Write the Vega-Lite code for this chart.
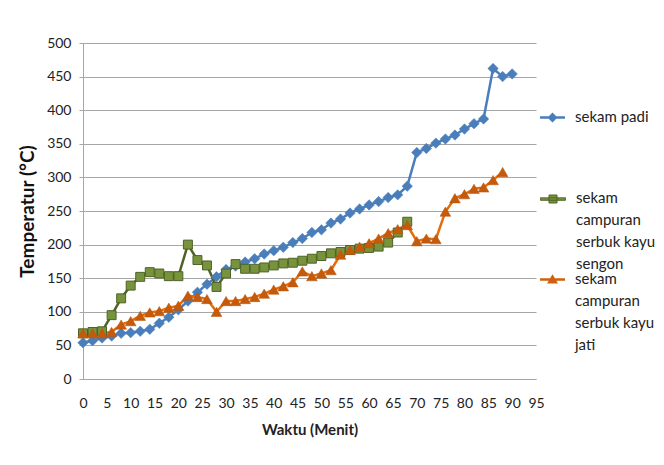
{
  "$schema": "https://vega.github.io/schema/vega-lite/v6.json",
  "autosize": "none",
  "width": 453,
  "height": 336,
  "padding": {"left": 83, "top": 43, "right": 128, "bottom": 86},
  "background": "white",
  "config": {
    "font": "Lato",
    "view": {"stroke": null},
    "legend": {
      "orient": "none", "legendX": 457, "padding": 0, "title": null, "direction": "vertical",
      "symbolSize": 625, "labelFontSize": 15, "labelColor": "#222", "labelOffset": 10, "labelLimit": 200, "labelBaseline": "top"
    }
  },
  "data": {"values": [
    {"s":"sekam padi","t":0,"v":54},{"s":"sekam padi","t":2,"v":57},{"s":"sekam padi","t":4,"v":61},{"s":"sekam padi","t":6,"v":64},{"s":"sekam padi","t":8,"v":68},{"s":"sekam padi","t":10,"v":69},{"s":"sekam padi","t":12,"v":71},{"s":"sekam padi","t":14,"v":74},{"s":"sekam padi","t":16,"v":83},{"s":"sekam padi","t":18,"v":92},{"s":"sekam padi","t":20,"v":103},{"s":"sekam padi","t":22,"v":116},{"s":"sekam padi","t":24,"v":129},{"s":"sekam padi","t":26,"v":141},{"s":"sekam padi","t":28,"v":152},{"s":"sekam padi","t":30,"v":163},{"s":"sekam padi","t":32,"v":168},{"s":"sekam padi","t":34,"v":174},{"s":"sekam padi","t":36,"v":179},{"s":"sekam padi","t":38,"v":186},{"s":"sekam padi","t":40,"v":191},{"s":"sekam padi","t":42,"v":196},{"s":"sekam padi","t":44,"v":203},{"s":"sekam padi","t":46,"v":209},{"s":"sekam padi","t":48,"v":218},{"s":"sekam padi","t":50,"v":222},{"s":"sekam padi","t":52,"v":232},{"s":"sekam padi","t":54,"v":238},{"s":"sekam padi","t":56,"v":247},{"s":"sekam padi","t":58,"v":253},{"s":"sekam padi","t":60,"v":259},{"s":"sekam padi","t":62,"v":264},{"s":"sekam padi","t":64,"v":270},{"s":"sekam padi","t":66,"v":274},{"s":"sekam padi","t":68,"v":287},{"s":"sekam padi","t":70,"v":337},{"s":"sekam padi","t":72,"v":343},{"s":"sekam padi","t":74,"v":351},{"s":"sekam padi","t":76,"v":357},{"s":"sekam padi","t":78,"v":363},{"s":"sekam padi","t":80,"v":372},{"s":"sekam padi","t":82,"v":380},{"s":"sekam padi","t":84,"v":387},{"s":"sekam padi","t":86,"v":462},{"s":"sekam padi","t":88,"v":450},{"s":"sekam padi","t":90,"v":454},
    {"s":"sekam campuran serbuk kayu sengon","t":0,"v":68},{"s":"sekam campuran serbuk kayu sengon","t":2,"v":70},{"s":"sekam campuran serbuk kayu sengon","t":4,"v":71},{"s":"sekam campuran serbuk kayu sengon","t":6,"v":95},{"s":"sekam campuran serbuk kayu sengon","t":8,"v":120},{"s":"sekam campuran serbuk kayu sengon","t":10,"v":139},{"s":"sekam campuran serbuk kayu sengon","t":12,"v":152},{"s":"sekam campuran serbuk kayu sengon","t":14,"v":159},{"s":"sekam campuran serbuk kayu sengon","t":16,"v":157},{"s":"sekam campuran serbuk kayu sengon","t":18,"v":153},{"s":"sekam campuran serbuk kayu sengon","t":20,"v":153},{"s":"sekam campuran serbuk kayu sengon","t":22,"v":200},{"s":"sekam campuran serbuk kayu sengon","t":24,"v":177},{"s":"sekam campuran serbuk kayu sengon","t":26,"v":169},{"s":"sekam campuran serbuk kayu sengon","t":28,"v":137},{"s":"sekam campuran serbuk kayu sengon","t":30,"v":157},{"s":"sekam campuran serbuk kayu sengon","t":32,"v":171},{"s":"sekam campuran serbuk kayu sengon","t":34,"v":164},{"s":"sekam campuran serbuk kayu sengon","t":36,"v":164},{"s":"sekam campuran serbuk kayu sengon","t":38,"v":166},{"s":"sekam campuran serbuk kayu sengon","t":40,"v":169},{"s":"sekam campuran serbuk kayu sengon","t":42,"v":172},{"s":"sekam campuran serbuk kayu sengon","t":44,"v":173},{"s":"sekam campuran serbuk kayu sengon","t":46,"v":176},{"s":"sekam campuran serbuk kayu sengon","t":48,"v":179},{"s":"sekam campuran serbuk kayu sengon","t":50,"v":183},{"s":"sekam campuran serbuk kayu sengon","t":52,"v":187},{"s":"sekam campuran serbuk kayu sengon","t":54,"v":189},{"s":"sekam campuran serbuk kayu sengon","t":56,"v":192},{"s":"sekam campuran serbuk kayu sengon","t":58,"v":194},{"s":"sekam campuran serbuk kayu sengon","t":60,"v":195},{"s":"sekam campuran serbuk kayu sengon","t":62,"v":197},{"s":"sekam campuran serbuk kayu sengon","t":64,"v":203},{"s":"sekam campuran serbuk kayu sengon","t":66,"v":218},{"s":"sekam campuran serbuk kayu sengon","t":68,"v":234},
    {"s":"sekam campuran serbuk kayu jati","t":0,"v":68},{"s":"sekam campuran serbuk kayu jati","t":2,"v":68},{"s":"sekam campuran serbuk kayu jati","t":4,"v":68},{"s":"sekam campuran serbuk kayu jati","t":6,"v":70},{"s":"sekam campuran serbuk kayu jati","t":8,"v":81},{"s":"sekam campuran serbuk kayu jati","t":10,"v":86},{"s":"sekam campuran serbuk kayu jati","t":12,"v":94},{"s":"sekam campuran serbuk kayu jati","t":14,"v":99},{"s":"sekam campuran serbuk kayu jati","t":16,"v":101},{"s":"sekam campuran serbuk kayu jati","t":18,"v":106},{"s":"sekam campuran serbuk kayu jati","t":20,"v":109},{"s":"sekam campuran serbuk kayu jati","t":22,"v":124},{"s":"sekam campuran serbuk kayu jati","t":24,"v":122},{"s":"sekam campuran serbuk kayu jati","t":26,"v":119},{"s":"sekam campuran serbuk kayu jati","t":28,"v":100},{"s":"sekam campuran serbuk kayu jati","t":30,"v":116},{"s":"sekam campuran serbuk kayu jati","t":32,"v":116},{"s":"sekam campuran serbuk kayu jati","t":34,"v":119},{"s":"sekam campuran serbuk kayu jati","t":36,"v":122},{"s":"sekam campuran serbuk kayu jati","t":38,"v":127},{"s":"sekam campuran serbuk kayu jati","t":40,"v":133},{"s":"sekam campuran serbuk kayu jati","t":42,"v":138},{"s":"sekam campuran serbuk kayu jati","t":44,"v":144},{"s":"sekam campuran serbuk kayu jati","t":46,"v":160},{"s":"sekam campuran serbuk kayu jati","t":48,"v":153},{"s":"sekam campuran serbuk kayu jati","t":50,"v":157},{"s":"sekam campuran serbuk kayu jati","t":52,"v":162},{"s":"sekam campuran serbuk kayu jati","t":54,"v":185},{"s":"sekam campuran serbuk kayu jati","t":56,"v":192},{"s":"sekam campuran serbuk kayu jati","t":58,"v":197},{"s":"sekam campuran serbuk kayu jati","t":60,"v":202},{"s":"sekam campuran serbuk kayu jati","t":62,"v":209},{"s":"sekam campuran serbuk kayu jati","t":64,"v":217},{"s":"sekam campuran serbuk kayu jati","t":66,"v":223},{"s":"sekam campuran serbuk kayu jati","t":68,"v":229},{"s":"sekam campuran serbuk kayu jati","t":70,"v":205},{"s":"sekam campuran serbuk kayu jati","t":72,"v":209},{"s":"sekam campuran serbuk kayu jati","t":74,"v":208},{"s":"sekam campuran serbuk kayu jati","t":76,"v":249},{"s":"sekam campuran serbuk kayu jati","t":78,"v":269},{"s":"sekam campuran serbuk kayu jati","t":80,"v":275},{"s":"sekam campuran serbuk kayu jati","t":82,"v":283},{"s":"sekam campuran serbuk kayu jati","t":84,"v":285},{"s":"sekam campuran serbuk kayu jati","t":86,"v":296},{"s":"sekam campuran serbuk kayu jati","t":88,"v":308}
  ]},
  "encoding": {
    "x": {"field": "t", "type": "quantitative",
      "scale": {"domain": [0, 95], "nice": false},
      "axis": {"values": [0,5,10,15,20,25,30,35,40,45,50,55,60,65,70,75,80,85,90,95], "grid": false, "ticks": false, "domainColor": "#A6A6A6", "labelFontSize": 14, "labelColor": "#222", "labelPadding": 17, "labelFlush": false, "title": "Waktu (Menit)", "titleFontSize": 15, "titleFontWeight": "bold", "titleColor": "#222", "titlePadding": 12}},
    "y": {"field": "v", "type": "quantitative",
      "scale": {"domain": [0, 500], "nice": false},
      "axis": {"values": [0,50,100,150,200,250,300,350,400,450,500], "gridColor": "#A6A6A6", "domainColor": "#A6A6A6", "tickColor": "#A6A6A6", "tickSize": 4, "labelFontSize": 14, "labelColor": "#222", "labelPadding": 8, "title": "Temperatur (°C)", "titleFontSize": 19, "titleFontWeight": "bold", "titleColor": "#111", "titlePadding": 9}}
  },
  "layer": [
    {"mark": {"type": "line", "strokeWidth": 2.5},
     "encoding": {
       "color": {"field": "s", "type": "nominal",
         "scale": {"domain": ["sekam padi", "sekam campuran serbuk kayu sengon", "sekam campuran serbuk kayu jati"], "range": ["#4A7EBB", "#4F6228", "#E46C0A"]},
         "legend": {
           "values": ["sekam padi"], "legendY": 62,
           "encode": {
             "symbols": {"update": {
               "shape": {"value": "M-1,-0.1H1V0.1H-1Z M0,-0.4L0.4,0L0,0.4L-0.4,0Z"},
               "size": {"value": 625}, "fill": {"value": "#4A7EBB"}, "stroke": {"value": "transparent"}, "strokeWidth": {"value": 0}, "opacity": {"value": 1}
             }},
             "labels": {"update": {"dy": {"value": -8}, "lineHeight": {"value": 23}}}
           }
         }},
       "strokeDash": {"field": "s", "type": "nominal",
         "scale": {"domain": ["sekam campuran serbuk kayu sengon", "sekam campuran serbuk kayu jati", "sekam padi"], "range": [[1, 0], [1, 0], [1, 0]]},
         "legend": {
           "values": ["sekam campuran serbuk kayu sengon"], "legendY": 143,
           "labelExpr": "split(replace(replace(datum.label, 'sekam campuran ', 'sekam|campuran|'), 'kayu ', 'kayu|'), '|')",
           "encode": {
             "symbols": {"update": {
               "shape": {"value": "M-1,-0.1H1V0.1H-1Z M-0.32,-0.32H0.32V0.32H-0.32Z"},
               "size": {"value": 625}, "fill": {"value": "#77933C"}, "stroke": {"value": "#4F6228"}, "strokeWidth": {"value": 1}, "strokeDash": {"value": [1, 0]}, "opacity": {"value": 1}
             }},
             "labels": {"update": {"dy": {"value": -8}, "lineHeight": {"value": 22}}}
           }
         }},
       "opacity": {"field": "s", "type": "ordinal",
         "scale": {"domain": ["sekam campuran serbuk kayu jati", "sekam padi", "sekam campuran serbuk kayu sengon"], "range": [1, 1, 1]},
         "legend": {
           "values": ["sekam campuran serbuk kayu jati"], "legendY": 224,
           "labelExpr": "split(replace(replace(datum.label, 'sekam campuran ', 'sekam|campuran|'), 'kayu ', 'kayu|'), '|')",
           "encode": {
             "symbols": {"update": {
               "shape": {"value": "M-1,-0.1H1V0.1H-1Z M0,-0.42L0.44,0.32H-0.44Z"},
               "size": {"value": 625}, "fill": {"value": "#D0600C"}, "stroke": {"value": "transparent"}, "strokeWidth": {"value": 0}, "opacity": {"value": 1}
             }},
             "labels": {"update": {"dy": {"value": -8}, "lineHeight": {"value": 22}}}
           }
         }}
     }},
    {"transform": [{"filter": "datum.s == 'sekam padi'"}],
     "mark": {"type": "point", "shape": "diamond", "filled": true, "opacity": 1, "size": 110, "fill": "#4A7EBB", "stroke": "#4A7EBB", "strokeWidth": 0.5},
     "encoding": {}},
    {"transform": [{"filter": "datum.s == 'sekam campuran serbuk kayu sengon'"}],
     "mark": {"type": "point", "shape": "square", "filled": true, "opacity": 1, "size": 80, "fill": "#77933C", "stroke": "#4F6228", "strokeWidth": 1},
     "encoding": {}},
    {"transform": [{"filter": "datum.s == 'sekam campuran serbuk kayu jati'"}],
     "mark": {"type": "point", "shape": "triangle-up", "filled": true, "opacity": 1, "size": 115, "fill": "#C65A0B", "stroke": "#B8530A", "strokeWidth": 0.5},
     "encoding": {}}
  ]
}
